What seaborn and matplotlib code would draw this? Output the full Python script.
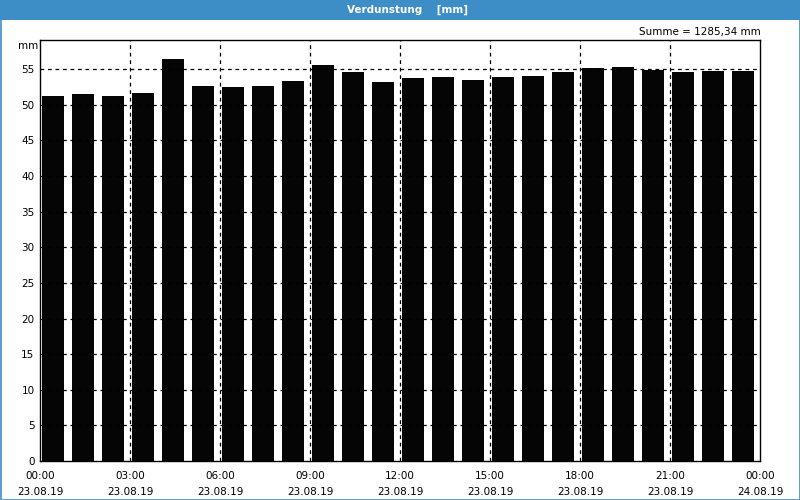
import numpy as np
import pandas as pd
import matplotlib
matplotlib.use("Agg")
import matplotlib.pyplot as plt
from matplotlib.patches import Rectangle
import seaborn as sns

hours = list(range(24))
values = [51.26, 51.54, 51.26, 51.69, 56.46, 52.67, 52.53, 52.67, 53.37, 55.62,
          54.63, 53.23, 53.79, 53.93, 53.51, 53.93, 54.07, 54.63, 55.20, 55.34,
          54.92, 54.63, 54.78, 54.78]
tick_hours = [0, 3, 6, 9, 12, 15, 18, 21, 24]
tick_labels = ["00:00\n23.08.19", "03:00\n23.08.19", "06:00\n23.08.19", "09:00\n23.08.19",
               "12:00\n23.08.19", "15:00\n23.08.19", "18:00\n23.08.19", "21:00\n23.08.19",
               "00:00\n24.08.19"]
y_ticks = list(range(0, 60, 5))
title = "Verdunstung    [mm]"
sum_text = "Summe = 1285,34 mm"
unit = "mm"

sns.set_style("white")
plt.rcParams['font.family'] = ['DejaVu Sans']
plt.rcParams['text.color'] = 'black'
plt.rcParams['xtick.color'] = 'black'
plt.rcParams['ytick.color'] = 'black'
plt.rcParams['xtick.labelcolor'] = 'black'
plt.rcParams['ytick.labelcolor'] = 'black'

BLUE = "#3d8ec6"
FS = 7.5
fig = plt.figure(figsize=(8, 5), dpi=100)
ax = fig.add_axes([40/800, 39/500, 720/800, 421/500])

df = pd.DataFrame({"pos": np.array(hours) + 0.433, "val": values})
sns.barplot(data=df, x="pos", y="val", native_scale=True, width=0.733,
            color="#050505", saturation=1, edgecolor="none", linewidth=0, ax=ax, zorder=2)

ax.set_xlim(0, 24)
ax.set_ylim(0, 59.1)
ax.set_xlabel("")
ax.set_ylabel("")

ax.set_xticks(tick_hours)
ax.set_xticklabels(tick_labels, fontsize=FS, linespacing=1.75)
ax.set_xticks(range(25), minor=True)
ax.set_yticks(y_ticks)
ax.set_yticklabels([str(v) for v in y_ticks], fontsize=FS)
ax.tick_params(axis="x", which="both", direction="out", length=3, width=1, color="black", pad=4)
ax.tick_params(axis="y", length=0, pad=4)

for h in tick_hours[1:-1]:
    ax.axvline(h, color="black", lw=0.9, ls=(0, (3, 3)), zorder=1)
for v in y_ticks[1:]:
    ax.axhline(v, color="black", lw=0.9, ls=(0, (3, 3)), zorder=3)

for s in ax.spines.values():
    s.set_color("black")
    s.set_linewidth(1)
    s.set_visible(True)

# title bar
fig.patches.append(Rectangle((0, 480/500), 1, 20/500, transform=fig.transFigure,
                             facecolor=BLUE, edgecolor="none", zorder=0))
fig.patches.append(Rectangle((0.5/800, 0.5/500), 799/800, 499/500, transform=fig.transFigure,
                             facecolor="none", edgecolor=BLUE, lw=1.2, zorder=5))
fig.text(0.509, 490/500, title, color="white", fontsize=FS, fontweight="bold",
         ha="center", va="center")
fig.text(761/800, 468/500, sum_text, fontsize=FS, ha="right", va="center")
fig.text(28/800, 454/500, unit, fontsize=FS, ha="center", va="center")

fig.savefig("out.png", dpi=100)
